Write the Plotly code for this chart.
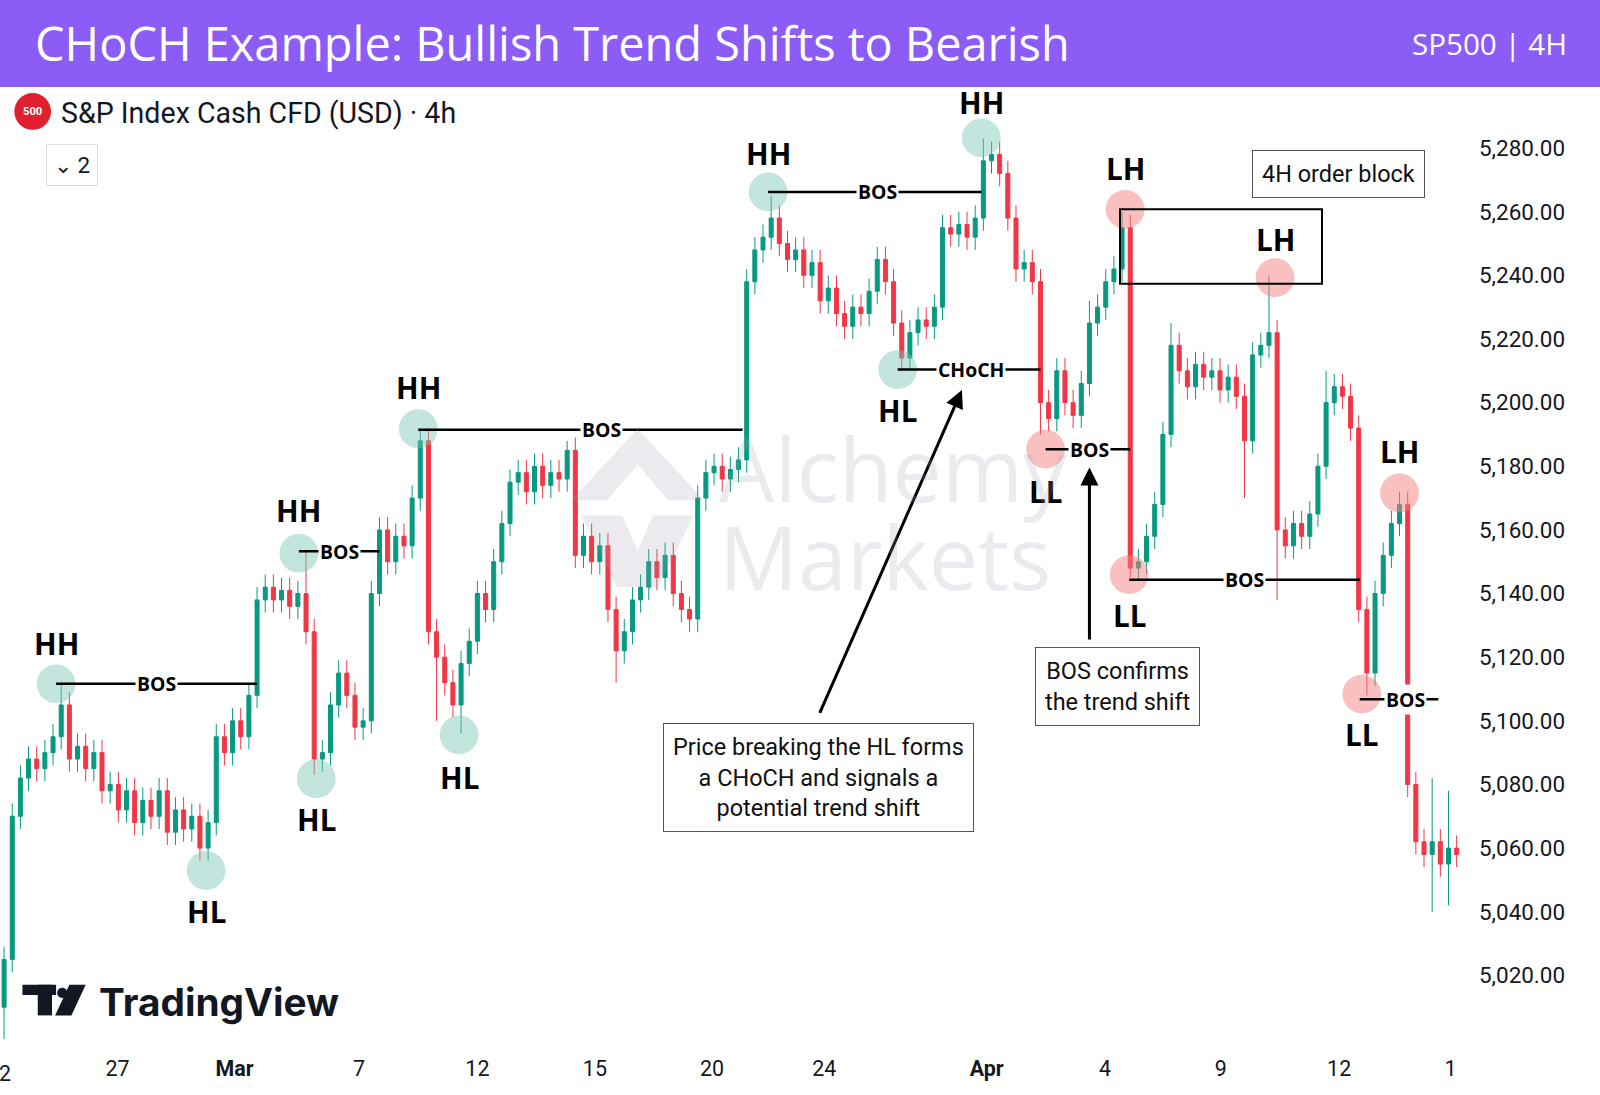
import plotly.graph_objects as go

closes = [5025,5070,5082,5088,5085,5090,5095,5105,5088,5092,5085,5090,5078,5080,5072,5078,5068,5075,5070,5078,
          5065,5072,5066,5070,5060,5068,5095,5090,5100,5095,5108,5138,5142,5138,5141,5136,5140,5128,5088,5090,
          5105,5115,5108,5098,5100,5140,5160,5150,5158,5155,5170,5188,5128,5120,5112,5105,5118,5125,5140,5135,
          5150,5162,5175,5178,5172,5180,5174,5178,5176,5185,5152,5158,5150,5155,5135,5122,5128,5138,5142,5150,
          5145,5152,5140,5135,5132,5170,5178,5180,5176,5179,5182,5238,5248,5252,5258,5250,5245,5248,5240,5244,
          5232,5236,5228,5224,5230,5228,5235,5245,5238,5225,5214,5222,5226,5224,5230,5255,5253,5256,5252,5258,
          5276,5278,5272,5258,5242,5244,5238,5200,5195,5210,5200,5196,5206,5225,5230,5238,5242,5255,5148,5150,
          5158,5168,5190,5218,5210,5205,5212,5208,5210,5204,5208,5202,5188,5215,5218,5222,5160,5155,5162,5158,
          5165,5180,5200,5205,5202,5192,5135,5115,5140,5152,5162,5168,5080,5062,5058,5062,5055,5060,5058]
first_open = 5010
high_marks = {7: 5112, 37: 5153, 51: 5192, 69: 5188, 94: 5265, 120: 5283, 137: 5260, 155: 5240, 171: 5172,
              162: 5210, 175: 5082, 177: 5078, 143: 5225, 133: 5232}
low_marks = {0: 5000, 24: 5056, 38: 5083, 56: 5096, 110: 5210, 127: 5190, 138: 5145, 152: 5170, 156: 5138,
             167: 5108, 175: 5040, 177: 5042, 75: 5112, 53: 5100}
default_wick = 4

x_tick_pos = [0.2, 13.9, 28.25, 43.5, 58, 72.4, 86.75, 100.5, 120.4, 134.9, 149.1, 163.6, 177.25]
x_tick_txt = ["2", "27", "<b>Mar</b>", "7", "12", "15", "20", "24", "<b>Apr</b>", "4", "9", "12", "1"]
y_ticks = list(range(5020, 5300, 20))

opens = [first_open] + closes[:-1]
idx = list(range(len(closes)))
highs = [high_marks.get(i, max(o, c) + default_wick) for i, (o, c) in enumerate(zip(opens, closes))]
lows = [low_marks.get(i, min(o, c) - default_wick) for i, (o, c) in enumerate(zip(opens, closes))]

# layout measured in reference-picture units (1568 wide), scaled to 1600
S = 1600 / 1568
W, H = 1600, 1095
RT, RB, RPW, RH = 85, 1025, 1435, 1073
RPH = RB - RT
def X(px): return (px - 4) / 8
def Y(py): return 5280 - (py - 145) / 3.118
def PX(px): return px / RPW
def PY(py): return (RB - py) / RPH
def F(s): return s * S

fig = go.Figure(go.Candlestick(x=idx, open=opens, high=highs, low=lows, close=closes,
    increasing=dict(line=dict(color="#089981", width=1), fillcolor="#089981"),
    decreasing=dict(line=dict(color="#F23645", width=1), fillcolor="#F23645"),
    whiskerwidth=0, showlegend=False))

shapes, ann = [], []
TEAL, PINK = "rgba(120,200,180,0.45)", "rgba(245,130,130,0.5)"
pts = [(55,670,630,"HH",TEAL),(202,853,893,"HL",TEAL),(310,763,803,"HL",TEAL),(293,542,500,"HH",TEAL),
       (410,420,380,"HH",TEAL),(450,720,762,"HL",TEAL),(753,188,150,"HH",TEAL),(880,362,402,"HL",TEAL),
       (962,135,100,"HH",TEAL),(1025,440,482,"LL",PINK),(1103,205,165,"LH",PINK),(1107,563,603,"LL",PINK),
       (1250,272,235,"LH",PINK),(1335,680,720,"LL",PINK),(1372,483,442,"LH",PINK)]
for px, py, ly, t, col in pts:
    shapes.append(dict(type="circle", xref="x", yref="y", x0=X(px-19), x1=X(px+19), y0=Y(py+19), y1=Y(py-19),
                       fillcolor=col, line=dict(width=0), layer="above"))
    ann.append(dict(x=X(px), y=Y(ly), text=f"<b>{t}</b>", showarrow=False,
                    font=dict(size=F(29), color="#000", family="Open Sans")))
bos = [(55,252,670,153,"BOS"),(293,372,540,333,"BOS"),(410,728,421,590,"BOS"),(753,962,188,860,"BOS"),
       (880,1020,362,952,"CHoCH"),(1025,1108,440,1068,"BOS"),(1107,1333,568,1220,"BOS"),(1333,1410,685,1378,"BOS")]
for x0, x1, py, lx, t in bos:
    shapes.append(dict(type="line", xref="x", yref="y", x0=X(x0), x1=X(x1), y0=Y(py), y1=Y(py),
                       line=dict(color="#000", width=2.5), layer="above"))
    ann.append(dict(x=X(lx), y=Y(py), text=f"<b>{t}</b>", showarrow=False, bgcolor="white",
                    font=dict(size=F(19), color="#000", family="Open Sans")))
shapes.append(dict(type="rect", xref="x", yref="y", x0=X(1098), x1=X(1296), y0=Y(278), y1=Y(205),
                   line=dict(color="#000", width=2), layer="above"))
for (xa, ya, xb, yb) in [(803,700,943,382),(1068,628,1068,458)]:
    ann.append(dict(x=X(xb), y=Y(yb), ax=X(xa), ay=Y(ya), xref="x", yref="y", axref="x", ayref="y",
                    showarrow=True, arrowhead=2, arrowsize=1.2, arrowwidth=3, arrowcolor="#000", text=""))
boxes = [(802,762,"Price breaking the HL forms<br>a CHoCH and signals a<br>potential trend shift"),
         (1096,673,"BOS confirms<br>the trend shift"), (1312,170,"4H order block")]
for px, py, t in boxes:
    ann.append(dict(x=X(px), y=Y(py), text=t, showarrow=False, bgcolor="white", bordercolor="#555",
                    borderwidth=1, borderpad=9, align="center", font=dict(size=F(23), color="#111", family="Roboto")))
# watermark
WM = "rgba(160,160,180,0.22)"
for txt, yy in [("Alchemy", 458), ("Markets", 545)]:
    ann.append(dict(xref="paper", yref="paper", x=PX(703), y=PY(yy), text=txt, showarrow=False, xanchor="left",
                    yanchor="middle", font=dict(size=F(86), color=WM, family="Open Sans")))
shapes.append(dict(type="path", xref="paper", yref="paper",
                   path=f"M {PX(560)} {PY(490)} L {PX(625)} {PY(420)} L {PX(690)} {PY(490)} L {PX(655)} {PY(490)} L {PX(625)} {PY(455)} L {PX(595)} {PY(490)} Z",
                   fillcolor=WM, line=dict(width=0)))
shapes.append(dict(type="path", xref="paper", yref="paper",
                   path=f"M {PX(570)} {PY(505)} L {PX(610)} {PY(505)} L {PX(625)} {PY(540)} L {PX(640)} {PY(505)} L {PX(680)} {PY(505)} L {PX(645)} {PY(575)} L {PX(605)} {PY(575)} Z",
                   fillcolor=WM, line=dict(width=0)))
# header
shapes.append(dict(type="rect", xref="paper", yref="paper", x0=0, x1=1.2, y0=1, y1=1 + RT/RPH + 0.01,
                   fillcolor="#8B5CF6", line=dict(width=0), layer="above"))
ann.append(dict(xref="paper", yref="paper", x=PX(32), y=PY(42), text="CHoCH Example: Bullish Trend Shifts to Bearish",
                showarrow=False, xanchor="left", yanchor="middle", font=dict(size=F(46), color="white", family="Open Sans")))
ann.append(dict(xref="paper", yref="paper", x=PX(1538), y=PY(42), text="SP500 | 4H", showarrow=False,
                xanchor="right", yanchor="middle", font=dict(size=F(29), color="white", family="Open Sans")))
# symbol label
shapes.append(dict(type="circle", xref="paper", yref="paper", x0=PX(14), x1=PX(50),
                   y0=PY(127), y1=PY(91), fillcolor="#E0202E", line=dict(width=0)))
ann.append(dict(xref="paper", yref="paper", x=PX(32), y=PY(109), text="<b>500</b>", showarrow=False,
                yanchor="middle", xanchor="center", font=dict(size=F(11), color="white", family="Roboto")))
ann.append(dict(xref="paper", yref="paper", x=PX(58), y=PY(110), text="S&P Index Cash CFD (USD) · 4h",
                showarrow=False, xanchor="left", yanchor="middle", font=dict(size=F(28), color="#131722", family="Roboto")))
ann.append(dict(xref="paper", yref="paper", x=PX(45), y=PY(161), text="⌄ 2", showarrow=False, yanchor="middle",
                bordercolor="#ddd", borderwidth=1, borderpad=7, bgcolor="white",
                font=dict(size=F(22), color="#131722", family="Roboto")))
# TradingView logo
shapes.append(dict(type="rect", xref="paper", yref="paper", x0=PX(22), x1=PX(55), y0=PY(975), y1=PY(965),
                   fillcolor="#131722", line=dict(width=0)))
shapes.append(dict(type="rect", xref="paper", yref="paper", x0=PX(37), x1=PX(51), y0=PY(995), y1=PY(965),
                   fillcolor="#131722", line=dict(width=0)))
shapes.append(dict(type="circle", xref="paper", yref="paper", x0=PX(56), x1=PX(66), y0=PY(978), y1=PY(968),
                   fillcolor="#131722", line=dict(width=0)))
shapes.append(dict(type="path", xref="paper", yref="paper",
                   path=f"M {PX(68)} {PY(965)} L {PX(84)} {PY(965)} L {PX(70)} {PY(995)} L {PX(54)} {PY(995)} Z",
                   fillcolor="#131722", line=dict(width=0)))
ann.append(dict(xref="paper", yref="paper", x=PX(95), y=PY(981), text="<b>TradingView</b>",
                showarrow=False, xanchor="left", yanchor="middle", font=dict(size=F(38), color="#131722", family="Inter")))
# first date label at left edge
ann.append(dict(xref="paper", yref="paper", x=PX(5), y=PY(1052), text="2", showarrow=False,
                xanchor="center", yanchor="middle", font=dict(size=F(21), color="#131722", family="Roboto")))

fig.update_layout(width=W, height=H, margin=dict(l=0, r=(1568 - RPW) * S, t=RT * S, b=(RH - RB) * S),
    paper_bgcolor="white", plot_bgcolor="white", shapes=shapes, annotations=ann,
    xaxis=dict(range=[-0.5, 178.9], rangeslider=dict(visible=False), showgrid=False, zeroline=False,
               tickvals=x_tick_pos[1:], ticktext=x_tick_txt[1:], ticks="", ticklabelstandoff=8,
               tickfont=dict(size=F(21), color="#131722", family="Roboto")),
    yaxis=dict(range=[4997.8, 5299.2], side="right", showgrid=False, zeroline=False, tickvals=y_ticks,
               ticktext=[f"{v:,.2f}" for v in y_ticks], ticks="", ticklabelstandoff=14,
               tickfont=dict(size=F(22), color="#131722", family="Roboto")))
fig.write_html("out.html", config={"displayModeBar": False})
with open("out.html", encoding="utf-8") as f:
    html = f.read()
html = html.replace("<head>", "<head><style>html,body{margin:0;padding:0;overflow:hidden}</style>", 1)
with open("out.html", "w", encoding="utf-8") as f:
    f.write(html)
